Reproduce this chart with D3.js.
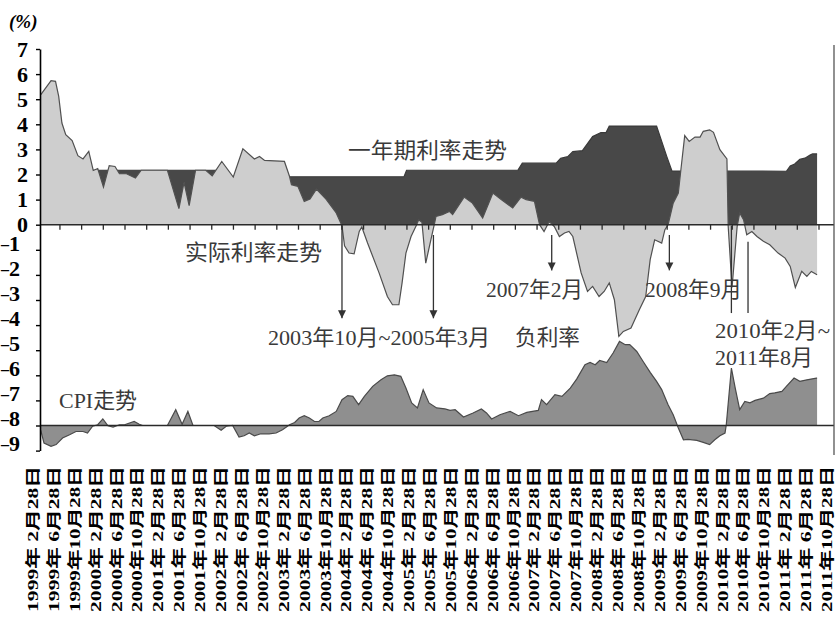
<!DOCTYPE html>
<html><head><meta charset="utf-8">
<script src="https://cdn.jsdelivr.net/npm/d3@7"></script>
<style>body{margin:0;background:#fff}</style>
</head><body>
<svg id="c" width="838" height="618"></svg>
<script>
// One-year deposit rate (dark area), [decimal year, %]
const depositRate = [
 [1999.08,2.17],[2002.00,2.17],[2002.04,1.91],[2004.76,1.91],[2004.80,2.17],[2006.54,2.17],
 [2006.61,2.45],[2007.14,2.45],[2007.21,2.65],[2007.32,2.71],[2007.40,2.91],[2007.55,2.95],
 [2007.71,3.51],[2007.84,3.67],[2007.92,3.67],[2007.97,3.93],[2008.71,3.93],[2008.87,2.71],
 [2008.95,2.14],[2010.74,2.13],[2010.80,2.34],[2010.87,2.42],[2010.95,2.61],[2011.03,2.65],
 [2011.11,2.78],[2011.15,2.82],[2011.22,2.82]
];
// Real interest rate (light area), [decimal year, %]
const realRate = [
 [1999.08,5.18],[1999.24,5.74],[1999.31,5.71],[1999.36,5.11],[1999.41,4.05],[1999.47,3.59],
 [1999.57,3.35],[1999.66,2.75],[1999.74,2.62],[1999.83,2.92],[1999.90,2.16],[1999.97,2.24],
 [2000.06,1.50],[2000.15,2.35],[2000.24,2.32],[2000.31,2.03],[2000.42,2.03],[2000.56,1.86],
 [2000.65,2.17],[2001.06,2.17],[2001.24,0.64],[2001.32,1.69],[2001.40,0.76],[2001.50,2.17],
 [2001.66,2.17],[2001.76,1.95],[2001.91,2.52],[2002.09,1.90],[2002.24,3.02],[2002.42,2.62],
 [2002.50,2.72],[2002.58,2.56],[2002.89,2.52],[2002.97,1.92],[2003.00,1.59],[2003.10,1.53],
 [2003.20,0.93],[2003.29,1.02],[2003.39,1.42],[2003.54,1.02],[2003.70,0.47],[2003.79,-0.04],
 [2003.83,-0.84],[2003.90,-1.13],[2003.98,-1.16],[2004.06,-0.27],[2004.10,-0.09],[2004.19,-0.73],
 [2004.37,-1.92],[2004.50,-2.86],[2004.58,-3.19],[2004.68,-3.19],[2004.73,-2.32],[2004.79,-1.13],
 [2004.87,-0.47],[2004.95,-0.04],[2004.99,0.20],[2005.04,0.10],[2005.10,-1.53],[2005.18,-0.60],
 [2005.24,0.08],[2005.26,0.33],[2005.36,0.40],[2005.47,0.53],[2005.52,0.40],[2005.70,1.10],
 [2005.83,0.86],[2005.99,0.27],[2006.15,1.26],[2006.28,1.00],[2006.46,0.67],[2006.59,1.10],
 [2006.67,1.00],[2006.80,0.93],[2006.88,0.00],[2006.95,-0.27],[2007.03,0.13],[2007.11,-0.07],
 [2007.19,-0.47],[2007.27,-0.33],[2007.34,-0.27],[2007.40,-0.47],[2007.53,-1.92],[2007.63,-2.66],
 [2007.71,-2.46],[2007.81,-2.86],[2007.89,-2.66],[2007.97,-2.32],[2008.05,-2.99],[2008.12,-4.45],
 [2008.19,-4.25],[2008.31,-4.12],[2008.44,-3.39],[2008.54,-2.86],[2008.61,-1.39],[2008.68,-0.60],
 [2008.79,-0.73],[2008.84,-0.20],[2008.89,0.00],[2008.97,0.86],[2009.05,1.26],[2009.09,2.19],
 [2009.15,3.55],[2009.22,3.32],[2009.31,3.49],[2009.39,3.49],[2009.44,3.72],[2009.54,3.78],
 [2009.60,3.68],[2009.70,2.99],[2009.81,2.62],[2009.83,-0.07],[2009.89,-2.50],[2009.97,-0.07],
 [2010.01,0.47],[2010.07,0.20],[2010.12,-0.40],[2010.20,-0.27],[2010.28,-0.47],[2010.38,-0.66],
 [2010.48,-0.80],[2010.61,-1.13],[2010.72,-1.33],[2010.80,-1.66],[2010.88,-2.50],[2010.98,-1.86],
 [2011.06,-2.06],[2011.13,-1.86],[2011.22,-1.99]
];
// CPI trend, drawn against the -8 baseline, [decimal year, plotted value]
const cpiTrend = [
 [1999.08,-8.20],[1999.13,-8.70],[1999.24,-8.83],[1999.32,-8.76],[1999.42,-8.50],[1999.53,-8.37],
 [1999.63,-8.24],[1999.74,-8.24],[1999.81,-8.30],[1999.89,-8.03],[1999.97,-7.97],[2000.05,-7.74],
 [2000.13,-8.01],[2000.21,-8.06],[2000.31,-7.97],[2000.39,-7.97],[2000.54,-7.84],[2000.62,-7.95],
 [2000.67,-8.00],[2001.06,-8.00],[2001.19,-7.37],[2001.29,-7.95],[2001.38,-7.44],[2001.46,-8.00],
 [2001.79,-8.00],[2001.90,-8.19],[2001.98,-8.03],[2002.08,-8.00],[2002.18,-8.46],[2002.26,-8.41],
 [2002.34,-8.30],[2002.42,-8.41],[2002.52,-8.33],[2002.65,-8.33],[2002.76,-8.30],[2002.86,-8.17],
 [2002.97,-7.97],[2003.05,-7.88],[2003.12,-7.70],[2003.20,-7.61],[2003.28,-7.70],[2003.36,-7.84],
 [2003.43,-7.84],[2003.49,-7.70],[2003.59,-7.61],[2003.70,-7.44],[2003.79,-6.97],[2003.88,-6.81],
 [2003.96,-6.84],[2004.05,-7.17],[2004.14,-6.84],[2004.27,-6.44],[2004.40,-6.18],[2004.50,-6.02],
 [2004.61,-5.98],[2004.71,-6.04],[2004.79,-6.51],[2004.88,-7.10],[2004.97,-7.30],[2005.06,-6.57],
 [2005.15,-7.10],[2005.27,-7.30],[2005.40,-7.34],[2005.48,-7.40],[2005.56,-7.37],[2005.69,-7.66],
 [2005.84,-7.50],[2005.97,-7.34],[2006.05,-7.50],[2006.13,-7.74],[2006.26,-7.57],[2006.42,-7.44],
 [2006.55,-7.61],[2006.68,-7.48],[2006.86,-7.40],[2006.91,-6.97],[2006.99,-7.17],[2007.12,-6.77],
 [2007.23,-6.84],[2007.36,-6.51],[2007.46,-6.15],[2007.59,-5.58],[2007.67,-5.49],[2007.75,-5.58],
 [2007.82,-5.41],[2007.93,-5.49],[2008.03,-5.11],[2008.13,-4.65],[2008.22,-4.78],[2008.29,-4.78],
 [2008.40,-5.05],[2008.50,-5.45],[2008.61,-5.88],[2008.71,-6.24],[2008.79,-6.57],[2008.89,-7.17],
 [2008.97,-7.57],[2009.05,-8.10],[2009.13,-8.57],[2009.20,-8.55],[2009.34,-8.59],[2009.44,-8.67],
 [2009.54,-8.76],[2009.62,-8.57],[2009.70,-8.41],[2009.78,-8.30],[2009.80,-7.97],[2009.88,-5.71],
 [2009.94,-6.51],[2010.01,-7.37],[2010.09,-7.04],[2010.17,-7.10],[2010.25,-7.00],[2010.38,-6.91],
 [2010.48,-6.73],[2010.56,-6.70],[2010.67,-6.64],[2010.74,-6.44],[2010.86,-6.11],[2010.95,-6.24],
 [2011.06,-6.18],[2011.21,-6.11],[2011.22,-6.11]
];
const cpiBaseline = -8;
const yTickValues = [-9,-8,-7,-6,-5,-4,-3,-2,-1,0,1,2,3,4,5,6,7];
const xTickLabels = [
 "1999年 2月28日","1999年 6月28日","1999年10月28日","2000年 2月28日","2000年 6月28日","2000年10月28日",
 "2001年 2月28日","2001年 6月28日","2001年10月28日","2002年 2月28日","2002年 6月28日","2002年10月28日",
 "2003年 2月28日","2003年 6月28日","2003年10月28日","2004年 2月28日","2004年 6月28日","2004年10月28日",
 "2005年 2月28日","2005年 6月28日","2005年10月28日","2006年 2月28日","2006年 6月28日","2006年10月28日",
 "2007年 2月28日","2007年 6月28日","2007年10月28日","2008年 2月28日","2008年 6月28日","2008年10月28日",
 "2009年 2月28日","2009年 6月28日","2009年10月28日","2010年 2月28日","2010年 6月28日","2010年10月28日",
 "2011年 2月28日","2011年 6月28日","2011年10月28日"
];
const seriesLabels = ["一年期利率走势","实际利率走势","CPI走势"];

const svg = d3.select("#c");
const x = d3.scaleLinear().domain([1999.083, 2011.25]).range([41, 819]);
const y = d3.scaleLinear().domain([-9, 7]).range([450.6, 49]);
const xRightEdge = 834, xLeftEdge = 40;

const area0 = d3.area().x(d => x(d[0])).y0(y(0)).y1(d => y(d[1]));
const line = d3.line().x(d => x(d[0])).y(d => y(d[1]));

// deposit rate
svg.append("path").datum(depositRate).attr("d", area0).attr("fill", "#484848");
svg.append("path").datum(depositRate).attr("d", line).attr("fill", "none").attr("stroke", "#3a3a3a").attr("stroke-width", 1.2);
// real rate
svg.append("path").datum(realRate).attr("d", area0).attr("fill", "#cecece");
svg.append("path").datum(realRate).attr("d", line).attr("fill", "none").attr("stroke", "#505050").attr("stroke-width", 1.2);

// zero line + ticks
svg.append("line").attr("x1", xLeftEdge).attr("x2", xRightEdge).attr("y1", y(0)).attr("y2", y(0))
  .attr("stroke", "#2a2a2a").attr("stroke-width", 1.6);
const tickPos = d3.scaleLinear().domain([0, 36]).range([x(1999.04), x(2011.25)]);
svg.append("g").selectAll("line").data(d3.range(1, 37)).join("line")
  .attr("x1", d => tickPos(d)).attr("x2", d => tickPos(d))
  .attr("y1", y(0)).attr("y2", y(0) + 5).attr("stroke", "#2a2a2a").attr("stroke-width", 1.3);

// CPI
const areaCpi = d3.area().x(d => x(d[0])).y0(y(cpiBaseline)).y1(d => y(d[1]));
svg.append("path").datum(cpiTrend).attr("d", areaCpi).attr("fill", "#8f8f8f");
svg.append("path").datum(cpiTrend).attr("d", line).attr("fill", "none").attr("stroke", "#4a4a4a").attr("stroke-width", 1.2);
svg.append("line").attr("x1", xLeftEdge).attr("x2", xRightEdge).attr("y1", y(cpiBaseline)).attr("y2", y(cpiBaseline))
  .attr("stroke", "#2a2a2a").attr("stroke-width", 1.4);

// right border
svg.append("line").attr("x1", xRightEdge).attr("x2", xRightEdge).attr("y1", 45).attr("y2", 455)
  .attr("stroke", "#555").attr("stroke-width", 1.3);

// y axis
const yAxis = svg.append("g").attr("transform", `translate(${xLeftEdge},0)`)
  .call(d3.axisLeft(y).tickValues(yTickValues).tickSize(4).tickSizeOuter(0).tickPadding(8)
    .tickFormat(() => ""));
yAxis.select(".domain").attr("stroke", "#000").attr("stroke-width", 1.6);
yAxis.selectAll(".tick line").attr("stroke", "#000").attr("stroke-width", 1.4);
const tickText = yAxis.selectAll(".tick text").attr("fill", "#000")
  .style("font-family", "'Liberation Serif','DejaVu Serif',serif").style("font-weight", "bold").style("font-size", "22px")
  .attr("x", d => d < 0 ? -20 : -12);
tickText.each(function(d) {
  const t = d3.select(this);
  if (d < 0) {
    t.append("tspan").text("\u2013").style("font-size", "16px").attr("dy", "-0.05em");
    t.append("tspan").text(String(-d)).attr("dy", "0.05em");
  } else {
    t.text(String(d));
  }
});

svg.append("text").attr("x", 9).attr("y", 28).text("(%)")
  .style("font-family", "'Liberation Serif',serif").style("font-style", "italic").style("font-weight", "bold")
  .style("font-size", "19px");

// arrows
const defs = svg.append("defs");
defs.append("marker").attr("id", "ah").attr("viewBox", "0 0 8 10").attr("refX", 8).attr("refY", 5)
  .attr("markerWidth", 8).attr("markerHeight", 10).attr("markerUnits", "userSpaceOnUse").attr("orient", "auto")
  .append("path").attr("d", "M0,1 L8,5 L0,9 Z").attr("fill", "#333");
const pointers = [
  {t: 2003.79, v0: -0.05, v1: -3.73, head: true},
  {t: 2005.22, v0: -0.41, v1: -3.73, head: true},
  {t: 2007.07, v0: -0.41, v1: -1.82, head: true},
  {t: 2008.91, v0: -0.41, v1: -1.82, head: true},
  {t: 2009.88, v0: -0.05, v1: -3.52, head: false},
  {t: 2010.14, v0: -0.68, v1: -3.52, head: false}
];
svg.append("g").selectAll("line").data(pointers).join("line")
  .attr("x1", d => x(d.t)).attr("x2", d => x(d.t)).attr("y1", d => y(d.v0)).attr("y2", d => y(d.v1))
  .attr("stroke", "#333").attr("stroke-width", 1.3)
  .attr("marker-end", d => d.head ? "url(#ah)" : null);

// annotation texts
const notes = [
  {s: seriesLabels[0], px: 348, py: 158, len: 159},
  {s: seriesLabels[1], px: 185, py: 260, len: 137},
  {s: "2003年10月~2005年3月", px: 268, py: 345, len: 222},
  {s: "负利率", px: 515, py: 345, len: 65},
  {s: "2007年2月", px: 486, py: 297, len: 97},
  {s: "2008年9月", px: 645, py: 297, len: 97},
  {s: "2010年2月~", px: 715, py: 338, len: 115},
  {s: "2011年8月", px: 715, py: 365, len: 98},
  {s: seriesLabels[2], px: 59, py: 408, len: 78}
];
svg.append("g").selectAll("text").data(notes).join("text")
  .attr("x", d => d.px).attr("y", d => d.py).attr("textLength", d => d.len).attr("lengthAdjust", "spacingAndGlyphs")
  .text(d => d.s).attr("fill", "#3a3a3a")
  .style("font-family", "'Liberation Serif','Noto Sans CJK SC',serif").style("font-size", "22px");

// x labels
const xl = d3.scalePoint().domain(xTickLabels).range([33, 827]);
svg.append("g").selectAll("text").data(xTickLabels).join("text")
  .attr("transform", d => `translate(${xl(d) + 5},466) rotate(-90)`)
  .attr("text-anchor", "end").attr("textLength", 146).attr("lengthAdjust", "spacingAndGlyphs")
  .text(d => d).attr("fill", "#000")
  .style("font-family", "'Liberation Serif','Noto Sans CJK SC',serif").style("font-weight", "bold").style("font-size", "15px");
</script>
</body></html>
